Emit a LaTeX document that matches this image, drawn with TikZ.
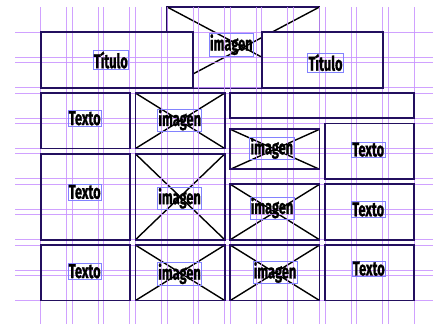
\documentclass[tikz,border=0pt]{standalone}
\usepackage{fontspec}
\usepackage{graphicx}
\setmainfont{Fira Sans}
\newfontfamily\lblfont[FakeBold=1.2]{Fira Sans Bold}
\definecolor{navy}{RGB}{35,15,95}
\definecolor{gd}{RGB}{200,145,255}
\definecolor{lb}{RGB}{130,130,255}
\newcommand\lab[1]{\scalebox{0.64}[1]{#1}}
\newcommand\wbox[5]{\node[frame,minimum width={#4-#2},minimum height={#5-#3}] (#1) at ({(#2+#4)/2},{(#3+#5)/2}) {};}
\newcommand\xcross[1]{\draw[crossln] (#1.north west) -- (#1.south east) (#1.north east) -- (#1.south west);}
\newcommand\rim[1]{\draw[rimln] (#1.north west) rectangle (#1.south east);}
\begin{document}
\begin{tikzpicture}[x=1pt,y=-1pt,
  frame/.style={draw=navy,line width=1.8pt,fill=white,outer sep=0pt,inner sep=0pt,rectangle},
  rimln/.style={draw=navy,line width=1.8pt},
  guide/.style={draw=gd,line width=0.9pt,opacity=0.85},
  lbl/.style={draw=lb,line width=0.6pt,inner sep=0.8pt,text=black,font=\fontsize{20}{20}\lblfont},
  crossln/.style={line width=1.4pt,black}]
\useasboundingbox (0,0) rectangle (433,324);
% top image box
\wbox{imgtop}{167.1}{7}{319.5}{87.7}
\xcross{imgtop}
% title boxes
\wbox{tl}{40.7}{32.3}{193.1}{87.7}
\wbox{tr}{261.9}{32.3}{382.7}{87.7}
% row boxes
\wbox{a}{40.7}{93.1}{129.9}{148.5}
\wbox{b}{135.5}{93.1}{224.7}{148.5}\xcross{b}
\wbox{c}{230.3}{93.1}{414.3}{118.1}
\wbox{d}{230.3}{129.3}{319.5}{169.3}\xcross{d}
\wbox{e}{325.1}{123.5}{414.3}{178.9}
\wbox{f}{40.7}{153.9}{129.9}{239.7}
\wbox{g}{135.5}{153.9}{224.7}{239.7}\xcross{g}
\wbox{h}{230.3}{184.3}{319.5}{239.7}\xcross{h}
\wbox{i}{325.1}{184.3}{414.3}{239.7}
\wbox{j}{40.7}{245.1}{129.9}{300.5}
\wbox{k}{135.5}{245.1}{224.7}{300.5}\xcross{k}
\wbox{l}{230.3}{245.1}{319.5}{300.5}\xcross{l}
\wbox{m}{325.1}{245.1}{414.3}{300.5}
% guides
\foreach \k in {0,...,11}{
  \pgfmathsetmacro\s{40.7+31.6*\k}
  \pgfmathsetmacro\e{66.7+31.6*\k}
  \draw[guide] (\s,7) -- (\s,324);
  \draw[guide] (\e,7) -- (\e,324);
}
\foreach \j in {0,...,8}{
  \pgfmathsetmacro\r{32.3+30.4*\j}
  \pgfmathsetmacro\q{57.3+30.4*\j}
  \draw[guide] (15,\r) -- (433,\r);
  \draw[guide] (15,\q) -- (433,\q);
}
% borders on top of guides
\foreach \n in {tl,tr,a,b,c,d,e,f,g,h,i,j,k,l,m}{\rim{\n}}
% labels
\node[lbl] (ltl) at (110.8,60) {\lab{Título}};
\node[lbl] (limgtop) at (231.3,44.7) {\lab{imagen}};
\node[lbl] (ltr) at (325.5,62.5) {\lab{Título}};
\node[lbl] (la) at (84.7,118.3) {\lab{Texto}};
\node[lbl] (lb) at (179.7,120) {\lab{imagen}};
\node[lbl] (ld) at (271.8,148.5) {\lab{imagen}};
\node[lbl] (le) at (368.2,149.7) {\lab{Texto}};
\node[lbl] (lf) at (84.7,192) {\lab{Texto}};
\node[lbl] (lg) at (179.5,198.3) {\lab{imagen}};
\node[lbl] (lh) at (272,208) {\lab{imagen}};
\node[lbl] (li) at (368.2,209.5) {\lab{Texto}};
\node[lbl] (lj) at (84.7,271.3) {\lab{Texto}};
\node[lbl] (lk) at (179.5,273.8) {\lab{imagen}};
\node[lbl] (ll) at (275,272.5) {\lab{imagen}};
\node[lbl] (lm) at (368.8,268.7) {\lab{Texto}};
\end{tikzpicture}
\end{document}
